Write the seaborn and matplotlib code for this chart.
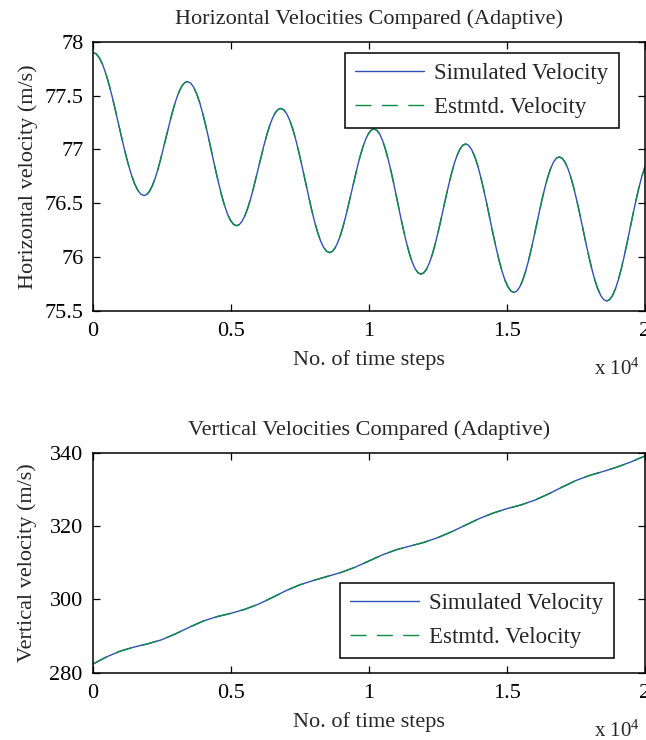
import numpy as np
import pandas as pd
import matplotlib
matplotlib.use("Agg")
import matplotlib.pyplot as plt
import seaborn as sns

# ---------------- data (time in units of 10^4 steps) ----------------
h_t = [0, 0.0116, 0.0231, 0.0347, 0.0463, 0.0578, 0.0694, 0.0809, 0.0925,
       0.1041, 0.1156, 0.1272, 0.1388, 0.1503, 0.1619, 0.1734, 0.185,
       0.1948, 0.2046, 0.2144, 0.2243, 0.2341, 0.2439, 0.2537, 0.2635,
       0.2733, 0.2831, 0.2929, 0.3028, 0.3126, 0.3224, 0.3322, 0.342,
       0.3531, 0.3643, 0.3754, 0.3865, 0.3976, 0.4088, 0.4199, 0.431,
       0.4421, 0.4533, 0.4644, 0.4755, 0.4866, 0.4978, 0.5089, 0.52,
       0.53, 0.54, 0.55, 0.56, 0.57, 0.58, 0.59, 0.60,
       0.61, 0.62, 0.63, 0.64, 0.65, 0.66, 0.67, 0.68,
       0.6911, 0.7021, 0.7132, 0.7243, 0.7353, 0.7464, 0.7574, 0.7685,
       0.7796, 0.7906, 0.8017, 0.8128, 0.8238, 0.8349, 0.8459, 0.857,
       0.8671, 0.8771, 0.8872, 0.8973, 0.9073, 0.9174, 0.9274, 0.9375,
       0.9476, 0.9576, 0.9677, 0.9778, 0.9878, 0.9979, 1.0079, 1.018,
       1.0286, 1.0393, 1.0499, 1.0605, 1.0711, 1.0818, 1.0924, 1.103,
       1.1136, 1.1243, 1.1349, 1.1455, 1.1561, 1.1668, 1.1774, 1.188,
       1.1981, 1.2083, 1.2184, 1.2285, 1.2386, 1.2488, 1.2589, 1.269,
       1.2791, 1.2893, 1.2994, 1.3095, 1.3196, 1.3298, 1.3399, 1.35,
       1.3609, 1.3719, 1.3828, 1.3938, 1.4047, 1.4156, 1.4266, 1.4375,
       1.4484, 1.4594, 1.4703, 1.4813, 1.4922, 1.5031, 1.5141, 1.525,
       1.5353, 1.5455, 1.5558, 1.566, 1.5763, 1.5865, 1.5968, 1.607,
       1.6173, 1.6275, 1.6378, 1.648, 1.6583, 1.6685, 1.6788, 1.689,
       1.6998, 1.7105, 1.7213, 1.732, 1.7428, 1.7535, 1.7643, 1.775,
       1.7858, 1.7965, 1.8073, 1.818, 1.8288, 1.8395, 1.8503, 1.861,
       1.8716, 1.8823, 1.8929, 1.9035, 1.9141, 1.9248, 1.9354, 1.946,
       1.9566, 1.9673, 1.9779, 1.9885, 2.0]
h_vel = [77.900, 77.887, 77.849, 77.788, 77.705, 77.604, 77.489, 77.365, 77.235,
         77.105, 76.981, 76.866, 76.765, 76.682, 76.621, 76.583, 76.570,
         76.580, 76.610, 76.659, 76.725, 76.806, 76.897, 76.997, 77.100,
         77.203, 77.303, 77.394, 77.475, 77.541, 77.590, 77.620, 77.630,
         77.617, 77.579, 77.517, 77.434, 77.332, 77.216, 77.091, 76.960,
         76.829, 76.704, 76.588, 76.486, 76.403, 76.341, 76.303, 76.290,
         76.300, 76.332, 76.382, 76.450, 76.532, 76.627, 76.729, 76.835,
         76.941, 77.044, 77.138, 77.220, 77.288, 77.339, 77.370, 77.380,
         77.367, 77.329, 77.267, 77.184, 77.082, 76.966, 76.841, 76.710,
         76.579, 76.454, 76.338, 76.236, 76.153, 76.091, 76.053, 76.040,
         76.051, 76.084, 76.137, 76.208, 76.296, 76.395, 76.503, 76.615,
         76.727, 76.835, 76.935, 77.022, 77.093, 77.146, 77.179, 77.190,
         77.177, 77.139, 77.076, 76.992, 76.890, 76.773, 76.647, 76.515,
         76.383, 76.257, 76.140, 76.038, 75.954, 75.891, 75.853, 75.840,
         75.852, 75.886, 75.942, 76.017, 76.109, 76.214, 76.327, 76.445,
         76.563, 76.677, 76.781, 76.873, 76.948, 77.004, 77.038, 77.050,
         77.037, 76.997, 76.934, 76.848, 76.743, 76.624, 76.495, 76.360,
         76.225, 76.096, 75.977, 75.872, 75.786, 75.723, 75.683, 75.670,
         75.682, 75.718, 75.776, 75.855, 75.950, 76.059, 76.177, 76.300,
         76.423, 76.541, 76.650, 76.746, 76.824, 76.882, 76.918, 76.930,
         76.917, 76.879, 76.817, 76.734, 76.632, 76.516, 76.391, 76.260,
         76.129, 76.004, 75.888, 75.786, 75.703, 75.641, 75.603, 75.590,
         75.603, 75.642, 75.704, 75.789, 75.891, 76.009, 76.136, 76.268,
         76.400, 76.527, 76.645, 76.748, 76.840]

v_t = [0.00, 0.05, 0.10, 0.15, 0.20, 0.25, 0.30, 0.35, 0.40, 0.45,
       0.50, 0.55, 0.60, 0.65, 0.70, 0.75, 0.80, 0.85, 0.90, 0.95,
       1.00, 1.05, 1.10, 1.15, 1.20, 1.25, 1.30, 1.35, 1.40, 1.45,
       1.50, 1.55, 1.60, 1.65, 1.70, 1.75, 1.80, 1.85, 1.90, 1.95, 2.00]
v_vel = [282.3, 284.3, 285.9, 287.0, 287.9, 289.0, 290.6, 292.4, 294.1, 295.3,
         296.2, 297.3, 298.7, 300.5, 302.4, 304.0, 305.2, 306.3, 307.4, 308.8,
         310.5, 312.2, 313.6, 314.6, 315.6, 316.9, 318.5, 320.3, 322.1, 323.6,
         324.8, 325.8, 327.1, 328.8, 330.7, 332.5, 333.9, 335.0, 336.2, 337.6,
         339.2]

xtick_vals = [0, 0.5, 1, 1.5, 2]
xtick_labels = ['0', '0.5', '1', '1.5', '2']
h_yticks = [75.5, 76, 76.5, 77, 77.5, 78]
h_ytick_labels = ['75.5', '76', '76.5', '77', '77.5', '78']
v_yticks = [280, 300, 320, 340]
v_ytick_labels = ['280', '300', '320', '340']
series_names = ['Simulated Velocity', 'Estmtd. Velocity']

# ---------------- style ----------------
sns.set_style('ticks')
plt.rcParams['font.family'] = ['Liberation Serif', 'DejaVu Serif']
plt.rcParams['mathtext.default'] = 'regular'

FS = 16
BLUE = '#3050b8'
GREEN = '#0d8a45'

fig = plt.figure(figsize=(6.46, 7.40), dpi=100)
ax1 = fig.add_axes([0.1440, 0.5801, 0.8545, 0.3635])
ax2 = fig.add_axes([0.1432, 0.0909, 0.8553, 0.2969])

def draw(ax, t, vel, yticks, ylabels, ylim, title, ylabel, leg_anchor):
    df = pd.DataFrame({'step': np.asarray(t) * 1e4, 'vel': vel})
    sns.lineplot(data=df, x='step', y='vel', ax=ax, color=BLUE, lw=1.0,
                 estimator=None, sort=False, label=series_names[0])
    sns.lineplot(data=df, x='step', y='vel', ax=ax, color=GREEN, lw=1.0,
                 estimator=None, sort=False, label=series_names[1])
    ax.lines[-1].set_dashes((11.5, 7.5))
    ax.set_xlim(0, 2e4)
    ax.set_ylim(*ylim)
    ax.set_xticks([v * 1e4 for v in xtick_vals])
    ax.set_xticklabels(xtick_labels)
    ax.set_yticks(yticks)
    ax.set_yticklabels(ylabels)
    ax.tick_params(direction='in', length=5, width=0.9, top=True, right=True,
                   labelsize=FS, colors='black')
    ax.tick_params(axis='x', pad=8)
    ax.tick_params(axis='y', pad=7)
    for s in ax.spines.values():
        s.set_visible(True)
        s.set_linewidth(1.1)
        s.set_color('black')
    ax.set_title(title, fontsize=FS, pad=13)
    ax.set_xlabel('No. of time steps', fontsize=FS, labelpad=7)
    ax.set_ylabel(ylabel, fontsize=FS)
    ax.yaxis.set_label_coords(-0.1, 0.5)
    ax.annotate(r'x 10$^4$', xy=(1.0, 0.0), xycoords='axes fraction',
                xytext=(-4, -42), textcoords='offset points', fontsize=FS - 1,
                ha='right', va='center')
    leg = ax.legend(loc='upper left', bbox_to_anchor=leg_anchor, borderaxespad=0,
                    fontsize=16.5, frameon=True, fancybox=False, framealpha=1,
                    edgecolor='black', handlelength=3.0, handletextpad=0.45,
                    borderpad=0.45, labelspacing=0.55)
    leg.get_frame().set_linewidth(1.1)

draw(ax1, h_t, h_vel, h_yticks, h_ytick_labels, (75.5, 78),
     'Horizontal Velocities Compared (Adaptive)', 'Horizontal velocity (m/s)',
     (0.456, 0.958))
draw(ax2, v_t, v_vel, v_yticks, v_ytick_labels, (280, 340),
     'Vertical Velocities Compared (Adaptive)', 'Vertical velocity (m/s)',
     (0.448, 0.408))

fig.savefig('out.png', dpi=100)
